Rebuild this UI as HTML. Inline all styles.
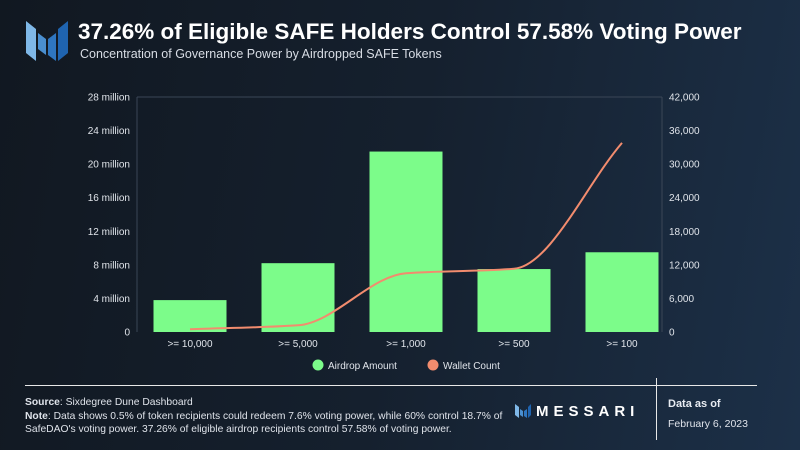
<!DOCTYPE html>
<html><head><meta charset="utf-8"><style>
body{margin:0;width:800px;height:450px;overflow:hidden;font-family:"Liberation Sans",sans-serif;}
#root{position:relative;width:800px;height:450px;background:linear-gradient(100deg,#111821 0%,#15202e 50%,#1c3048 100%);}
.t{position:absolute;color:#fff;white-space:nowrap}
</style></head><body>
<div id="root">
<svg style="position:absolute;left:26px;top:21px" width="42" height="42">
<polygon points="0,0 10,8 10,40 0,32" fill="#7fb8e8"/><polygon points="12,12 20,18 20,34 12,28" fill="#4a8fd0"/><polygon points="22,18 30,12 30,40 22,34" fill="#2f76c0"/><polygon points="32,8 42,0 42,32 32,40" fill="#1f64b0"/>
</svg>
<div class="t" style="left:78px;top:19px;font-size:22.5px;font-weight:bold">37.26% of Eligible SAFE Holders Control 57.58% Voting Power</div>
<div class="t" style="left:80px;top:47px;font-size:12.5px;color:#d8dde5">Concentration of Governance Power by Airdropped SAFE Tokens</div>
<svg id="c" width="800" height="450" style="position:absolute;left:0;top:0"></svg>
<div style="position:absolute;left:25px;top:385px;width:732px;height:1px;background:#e8e8e8"></div>
<div style="position:absolute;left:656px;top:378px;width:1px;height:62px;background:#e8e8e8"></div>
<div class="t" style="left:25px;top:396px;font-size:10.3px;line-height:13.5px;color:#dfe3ea"><b>Source</b>: Sixdegree Dune Dashboard<br><b>Note</b>: Data shows 0.5% of token recipients could redeem 7.6% voting power, while 60% control 18.7% of<br>SafeDAO's voting power. 37.26% of eligible airdrop recipients control 57.58% of voting power.</div>
<svg style="position:absolute;left:515px;top:404px" width="16" height="14"><polygon points="0,0 4,3 4,14 0,11" fill="#7fb8e8"/><polygon points="5,5 8,7 8,13 5,11" fill="#4a8fd0"/><polygon points="9,7 12,5 12,14 9,12" fill="#2f76c0"/><polygon points="13,3 16,0 16,11 13,14" fill="#1f64b0"/></svg>
<div class="t" style="left:536px;top:403px;font-size:15px;font-weight:bold;letter-spacing:5px">MESSARI</div>
<div class="t" style="left:668px;top:398px;font-size:11px;font-weight:bold;color:#e8ecf2">Data as of</div>
<div class="t" style="left:668px;top:418px;font-size:10.5px;color:#dfe3ea">February 6, 2023</div>
</div>
<script>
const categories=[">= 10,000",">= 5,000",">= 1,000",">= 500",">= 100"];
const airdropAmount=[3.8,8.2,21.5,7.5,9.5];
const walletCount=[500,1200,10500,11300,33800];
const leftTicks=[0,4,8,12,16,20,24,28];
const rightTicks=[0,6000,12000,18000,24000,30000,36000,42000];
const NS="http://www.w3.org/2000/svg",svg=document.getElementById('c');
const x0=137,x1=662,yB=332,yT=97,bandStart=136,bw=108;
const xc=i=>bandStart+bw*(i+0.5);
const yL=v=>yB-(v/28)*(yB-yT);
const yR=v=>yB-(v/42000)*(yB-yT);
function mk(t,a,txt){const e=document.createElementNS(NS,t);for(const k in a)e.setAttribute(k,a[k]);if(txt!=null)e.textContent=txt;svg.appendChild(e);return e;}
let e=mk('line',{x1:x0,y1:yT,x2:x0,y2:yB,stroke:'#3a4656'});

e=mk('line',{x1:x1,y1:yT,x2:x1,y2:yB,stroke:'#3a4656'});

e=mk('line',{x1:x0,y1:yT,x2:x1,y2:yT,stroke:'#3a4656'});

leftTicks.forEach(v=>{e=mk('text',{x:x0-7,y:yL(v)+3.5,'text-anchor':'end','font-size':'10',fill:'#e0e4ea'},v===0?'0':v+' million');
});
rightTicks.forEach(v=>{e=mk('text',{x:x1+7,y:yR(v)+3.5,'font-size':'10',fill:'#e0e4ea'},v.toLocaleString('en-US'));
});
categories.forEach((c,i)=>{
e=mk('rect',{x:xc(i)-36.5,y:yL(airdropAmount[i]),width:73,height:yB-yL(airdropAmount[i]),fill:'#7cfc8a'});

e=mk('text',{x:xc(i),y:yB+15,'text-anchor':'middle','font-size':'10',fill:'#e0e4ea'},c);
});
const px=categories.map((c,i)=>xc(i)),py=walletCount.map(yR),n=px.length;
const d=[],m=[];for(let i=0;i<n-1;i++)d.push((py[i+1]-py[i])/(px[i+1]-px[i]));
m[0]=d[0];m[n-1]=d[n-2];for(let i=1;i<n-1;i++)m[i]=d[i-1]*d[i]<=0?0:2/(1/d[i-1]+1/d[i]);
let p='M'+px[0]+','+py[0];
for(let i=0;i<n-1;i++){const h=(px[i+1]-px[i])/3;p+=`C${px[i]+h},${py[i]+m[i]*h} ${px[i+1]-h},${py[i+1]-m[i+1]*h} ${px[i+1]},${py[i+1]}`;}
e=mk('path',{d:p,fill:'none',stroke:'#f28c6e','stroke-width':2});

e=mk('circle',{cx:318,cy:365,r:5.5,fill:'#7cfc8a'});

e=mk('text',{x:328,y:369,'font-size':'10',fill:'#e0e4ea'},'Airdrop Amount');

e=mk('circle',{cx:433,cy:365,r:5.5,fill:'#f28c6e'});

e=mk('text',{x:443,y:369,'font-size':'10',fill:'#e0e4ea'},'Wallet Count');

</script>
</body></html>
